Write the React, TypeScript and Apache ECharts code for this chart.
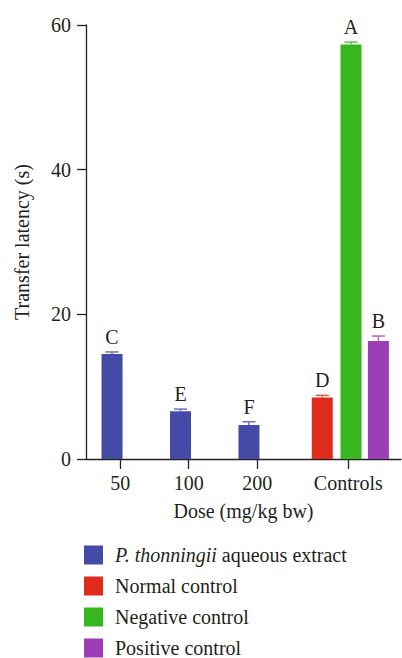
import React, { useEffect, useRef } from "react";
import * as echarts from "echarts";

// Tick labels along the x axis and their positions (axis units)
const categories = ["50", "100", "200", "Controls"];
const categoryPositions = [0.5, 1.5, 2.5, 3.83];

// Bars
const barGroups = ["extract", "extract", "extract", "normal", "negative", "positive"];
const barPositions = [0.38, 1.38, 2.38, 3.45, 3.87, 4.27];
const means = [14.5, 6.6, 4.7, 8.5, 57.3, 16.3];
const errors = [0.3, 0.3, 0.45, 0.3, 0.35, 0.7];
const letters = ["C", "E", "F", "D", "A", "B"];

// Legend
const legendKeys = ["extract", "normal", "negative", "positive"];
const legendNames = [
  "P. thonningii aqueous extract",
  "Normal control",
  "Negative control",
  "Positive control",
];
const legendColors = ["#434ba6", "#de2b1c", "#36b71d", "#9c3eb6"];
const errColors = ["#6a70c4", "#e85a4c", "#52c83e", "#b064c8"];

const yTicks = [0, 20, 40, 60];

const FONT = "Liberation Serif";
const TEXT = "#231f20";

export default function App() {
  const ref = useRef<HTMLDivElement>(null);
  useEffect(() => {
    if (!ref.current) return;
    const chart = echarts.init(ref.current, null, { renderer: "svg" });
    const colorOf = (g: string) => legendColors[legendKeys.indexOf(g)];
    const errColorOf = (g: string) => errColors[legendKeys.indexOf(g)];

    const option: any = {
      animation: false,
      grid: { left: 86, right: 1, top: 25, bottom: 199 },
      textStyle: { fontFamily: FONT, color: TEXT },
      xAxis: {
        type: "value",
        min: 0,
        max: 4.6,
        name: "Dose (mg/kg bw)",
        nameLocation: "middle",
        nameGap: 42,
        nameTextStyle: { fontFamily: FONT, fontSize: 20, color: TEXT },
        splitLine: { show: false },
        axisLine: { show: true, lineStyle: { color: "#222", width: 1.3 } },
        axisTick: {
          show: true,
          length: 10,
          customValues: categoryPositions,
          lineStyle: { color: "#222", width: 1.3 },
        },
        axisLabel: {
          customValues: categoryPositions,
          margin: 14,
          fontFamily: FONT,
          fontSize: 20,
          color: TEXT,
          formatter: (v: number) => {
            const i = categoryPositions.findIndex((p) => Math.abs(p - v) < 1e-6);
            return i >= 0 ? categories[i] : "";
          },
        },
      },
      yAxis: {
        type: "value",
        min: 0,
        max: 60,
        interval: 20,
        name: "Transfer latency (s)",
        nameLocation: "middle",
        nameGap: 54,
        nameTextStyle: { fontFamily: FONT, fontSize: 20, color: TEXT },
        splitLine: { show: false },
        axisLine: { show: true, lineStyle: { color: "#222", width: 1.3 } },
        axisTick: { show: true, length: 9, lineStyle: { color: "#222", width: 1.3 } },
        axisLabel: {
          margin: 15,
          fontFamily: FONT,
          fontSize: 20,
          color: TEXT,
          formatter: (v: number) => (yTicks.includes(v) ? String(v) : ""),
        },
      },
      legend: {
        orient: "vertical",
        left: 84,
        top: 545,
        padding: 0,
        height: 113,
        icon: "rect",
        itemWidth: 19,
        itemHeight: 19,
        itemGap: 11,
        data: legendNames,
        formatter: (name: string) =>
          name.startsWith("P. thonningii")
            ? "{i|P. thonningii} aqueous extract"
            : name,
        textStyle: {
          fontFamily: FONT,
          fontSize: 20,
          lineHeight: 20,
          color: TEXT,
          padding: [0, 0, 0, 7],
          rich: {
            i: { fontFamily: FONT, fontSize: 20, lineHeight: 20, fontStyle: "italic", color: TEXT },
          },
        },
      },
      series: [
        {
          type: "bar",
          barWidth: 21,
          data: barPositions.map((x, i) => ({
            value: [x, means[i]],
            itemStyle: { color: colorOf(barGroups[i]) },
          })),
          z: 2,
        },
        {
          type: "custom",
          z: 3,
          data: barPositions.map((x, i) => [x, means[i], errors[i]]),
          renderItem: (params: any, api: any) => {
            const i = params.dataIndex;
            const x = api.value(0);
            const y = api.value(1);
            const e = api.value(2);
            const p0 = api.coord([x, y]);
            const p1 = api.coord([x, y + e]);
            const c = errColorOf(barGroups[i]);
            return {
              type: "group",
              children: [
                {
                  type: "line",
                  shape: { x1: p0[0], y1: p0[1], x2: p1[0], y2: p1[1] },
                  style: { stroke: c, lineWidth: 1.5 },
                },
                {
                  type: "line",
                  shape: { x1: p1[0] - 6.5, y1: p1[1], x2: p1[0] + 6.5, y2: p1[1] },
                  style: { stroke: c, lineWidth: 1.5 },
                },
                {
                  type: "text",
                  x: p1[0],
                  y: p1[1] - 5,
                  style: {
                    text: letters[i],
                    fontFamily: FONT,
                    fontSize: 20,
                    fill: TEXT,
                    align: "center",
                    verticalAlign: "bottom",
                  },
                },
              ],
            };
          },
        },
        ...legendNames.map((name, i) => ({
          type: "line",
          name,
          data: [],
          itemStyle: { color: legendColors[i] },
          lineStyle: { color: legendColors[i] },
        })),
      ],
    };
    chart.setOption(option);
    return () => chart.dispose();
  }, []);
  return (
    <div
      ref={ref}
      style={{ position: "fixed", left: 0, top: 0, width: 402, height: 658, background: "#fff" }}
    />
  );
}
